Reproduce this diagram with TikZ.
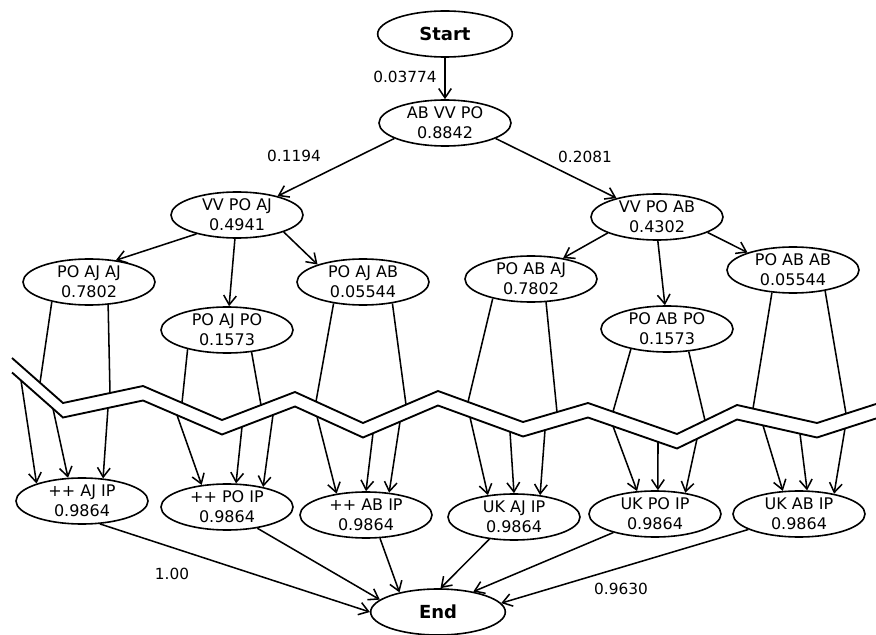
\documentclass[tikz,border=0pt]{standalone}
\usepackage{fontspec}
\setmainfont{DejaVu Sans}
\usetikzlibrary{arrows.meta,shapes.geometric}
\begin{document}
\begin{tikzpicture}[x=0.75pt,y=-0.75pt,
  base/.style={draw,ellipse,line width=1.2pt,inner sep=0pt,minimum width=99pt,minimum height=34.5pt,align=center},
  st/.style={base,font=\fontsize{12}{15}\selectfont,execute at begin node={\rule{0pt}{11.9pt}}},
  term/.style={base,minimum width=101pt,font=\fontsize{13.5}{15}\selectfont\bfseries},
  arr/.style={line width=1.15pt,-{Straight Barb[length=7pt,width=9.5pt]}},
  seg/.style={line width=1.15pt},
  zz/.style={line width=1.4pt,line join=miter},
  lbl/.style={font=\fontsize{11.5}{14}\selectfont,inner sep=0pt}]
\useasboundingbox (0,0) rectangle (876,635);

\node[term] (start) at (445,34) {Start};
\node[st] (abvvpo) at (445,123) {AB VV PO\\0.8842};
\node[st] (vvpoaj) at (237,215) {VV PO AJ\\0.4941};
\node[st] (vvpoab) at (657,217) {VV PO AB\\0.4302};
\node[st] (m1) at (89,282) {PO AJ AJ\\0.7802};
\node[st] (m2) at (227,330) {PO AJ PO\\0.1573};
\node[st] (m3) at (363,282) {PO AJ AB\\0.05544};
\node[st] (m4) at (531,279) {PO AB AJ\\0.7802};
\node[st] (m5) at (667,329) {PO AB PO\\0.1573};
\node[st] (m6) at (793,270) {PO AB AB\\0.05544};
\node[st] (b1) at (82,501) {++ AJ IP\\0.9864};
\node[st] (b2) at (227,507) {++ PO IP\\0.9864};
\node[st] (b3) at (366,515) {++ AB IP\\0.9864};
\node[st] (b4) at (514,517) {UK AJ IP\\0.9864};
\node[st] (b5) at (655,514) {UK PO IP\\0.9864};
\node[st] (b6) at (799,514) {UK AB IP\\0.9864};
\node[term] (fin) at (438,612) {End};

\node[lbl] (l0) at (405,77) {0.03774};
\node[lbl] (l1) at (294,156) {0.1194};
\node[lbl] (l2) at (585,157) {0.2081};
\node[lbl] (l3) at (172,574) {1.00};
\node[lbl] (l4) at (621,589) {0.9630};

% break
\draw[zz] (12,358) -- (63,403) -- (143,386) -- (222,420) -- (295,392) -- (363,423) -- (438,391) -- (523,422) -- (588,403) -- (677,434) -- (737,405) -- (817,423) -- (876,404);
\draw[zz,shift={(0,14.5)}] (12,358) -- (63,403) -- (143,386) -- (222,420) -- (295,392) -- (363,423) -- (438,391) -- (523,422) -- (588,403) -- (677,434) -- (737,405) -- (817,423) -- (876,404);

\coordinate (u1a) at (40,382.7);
\coordinate (u1b) at (110,393);
\coordinate (u2a) at (182,402.8);
\coordinate (u2b) at (261,405);
\coordinate (u3a) at (316,401.6);
\coordinate (u3b) at (406,404.6);
\coordinate (u4a) at (468,402);
\coordinate (u4b) at (557,412.1);
\coordinate (u5a) at (613,411.7);
\coordinate (u5b) at (705,420.5);
\coordinate (u6a) at (753,408.6);
\coordinate (u6b) at (846,413.7);

\coordinate (l1a) at (21,380.4);
\coordinate (l1b) at (53,408.7);
\coordinate (l1c) at (108,407.9);
\coordinate (l2a) at (177,415.1);
\coordinate (l2b) at (242,426.8);
\coordinate (l2c) at (273,414.9);
\coordinate (l3a) at (317,416.5);
\coordinate (l3b) at (373,433.2);
\coordinate (l3c) at (400,421.7);
\coordinate (l4a) at (470,417.2);
\coordinate (l4b) at (510,431.8);
\coordinate (l4c) at (545,430.1);
\coordinate (l5a) at (613,426.2);
\coordinate (l5b) at (658,441.9);
\coordinate (l5c) at (697,438.8);
\coordinate (l6a) at (763,425.4);
\coordinate (l6b) at (800,433.7);
\coordinate (l6c) at (845,428.5);

\draw[seg] (m1.208) -- (u1a);
\draw[seg] (m1.310) -- (u1b);
\draw[seg] (m2.206) -- (u2a);
\draw[seg] (m2.318) -- (u2b);
\draw[seg] (m3.216) -- (u3a);
\draw[seg] (m3.324) -- (u3b);
\draw[seg] (m4.207) -- (u4a);
\draw[seg] (m4.303) -- (u4b);
\draw[seg] (m5.209) -- (u5a);
\draw[seg] (m5.314) -- (u5b);
\draw[seg] (m6.227) -- (u6a);
\draw[seg] (m6.327) -- (u6b);

\draw[arr] (l1a) -- (b1.159);
\draw[arr] (l1b) -- (b1.121);
\draw[arr] (l1c) -- (b1.47);
\draw[arr] (l2a) -- (b2.139);
\draw[arr] (l2b) -- (b2.69);
\draw[arr] (l2c) -- (b2.29);
\draw[arr] (l3a) -- (b3.144);
\draw[arr] (l3b) -- (b3.90);
\draw[arr] (l3c) -- (b3.44);
\draw[arr] (l4a) -- (b4.140);
\draw[arr] (l4b) -- (b4.90);
\draw[arr] (l4c) -- (b4.40);
\draw[arr] (l5a) -- (b5.128);
\draw[arr] (l5b) -- (b5.83);
\draw[arr] (l5c) -- (b5.35);
\draw[arr] (l6a) -- (b6.125);
\draw[arr] (l6b) -- (b6.71);
\draw[arr] (l6c) -- (b6.30);

\draw[arr] (start) -- (abvvpo);
\draw[arr] (abvvpo.197) -- (vvpoaj.25);
\draw[arr] (abvvpo.343) -- (vvpoab.155);
\draw[arr] (vvpoaj.205) -- (m1.39);
\draw[arr] (vvpoaj.265) -- (m2.85);
\draw[arr] (vvpoaj.340) -- (m3.159);
\draw[arr] (vvpoab.198) -- (m4.33);
\draw[arr] (vvpoab.272) -- (m5.95);
\draw[arr] (vvpoab.343) -- (m6.159);

\draw[arr] (b1.308) -- (fin.180);
\draw[arr] (b2.325) -- (fin.168);
\draw[arr] (b3.301) -- (fin.153);
\draw[arr] (b4.222) -- (fin.84);
\draw[arr] (b5.204) -- (fin.30);
\draw[arr] (b6.197) -- (fin.8);
\end{tikzpicture}
\end{document}
